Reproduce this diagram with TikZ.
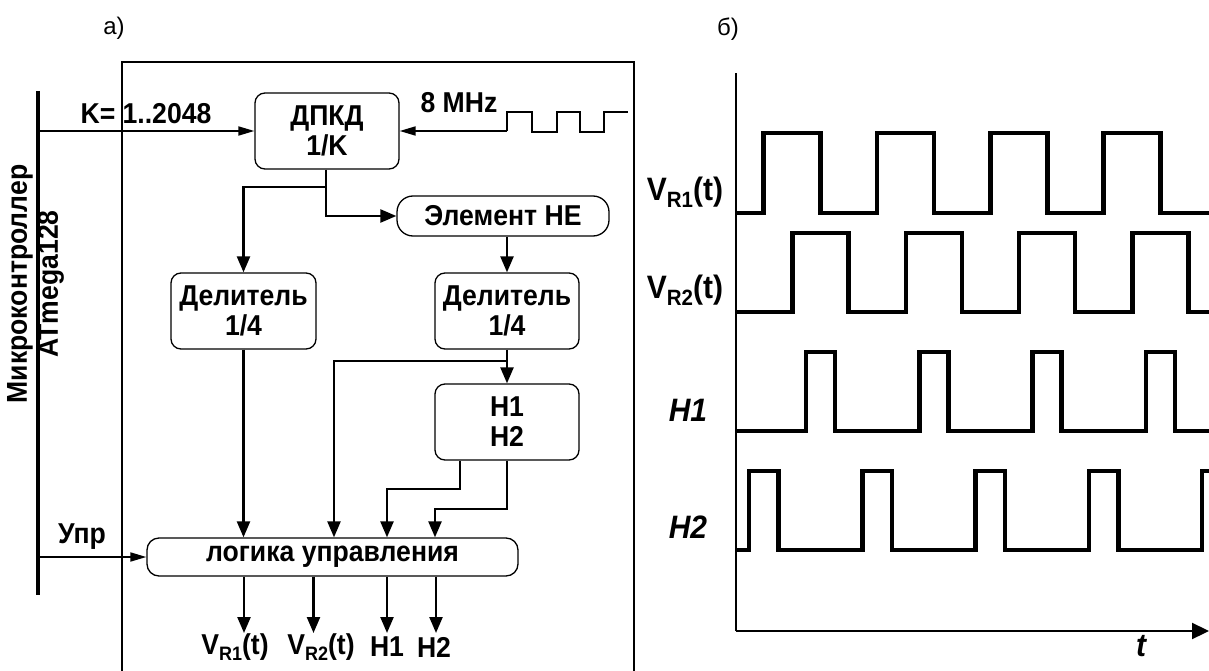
\documentclass[tikz,border=0pt]{standalone}
\usepackage{fontspec}
\usepackage{graphicx}
\setmainfont{Liberation Sans}
\usetikzlibrary{arrows.meta}
\newcommand\vst[1]{\scalebox{1}[1.08]{#1}}
\newcommand\mysub[1]{\raisebox{-0.22em}{\fontsize{18}{18}\selectfont #1}}
\newcommand\mybigsub[1]{\raisebox{-0.22em}{\fontsize{20.5}{20}\selectfont #1}}
\begin{document}
\begin{tikzpicture}[x=1pt,y=-1pt,
  blk/.style={draw, line width=1.3pt, rounded corners=10pt, inner sep=0pt, align=center,
    font=\fontsize{26.6}{30}\selectfont\bfseries},
  txt/.style={inner sep=0pt, font=\fontsize{26.6}{30}\selectfont\bfseries},
  bigtxt/.style={inner sep=0pt, font=\fontsize{30}{34}\selectfont\bfseries},
  itxt/.style={inner sep=0pt, font=\fontsize{30}{34}\selectfont\bfseries\itshape},
  lab/.style={inner sep=0pt, font=\fontsize{24}{26}\selectfont},
  conn/.style={line width=2.4pt, -{Triangle[length=16pt,width=13pt]}},
  wire/.style={line width=2.4pt},
  thinconn/.style={line width=1.8pt, -{Triangle[length=16pt,width=9pt]}},
  clkwave/.style={line width=1.3pt},
  sig/.style={line width=4.5pt, line join=miter},
  axis/.style={line width=2.2pt},
]
\useasboundingbox (0,0) rectangle (1209,671);

% panel labels
\node[lab] (la) at (114,28) {а)};
\node[lab] (lb) at (728,29) {б)};

% frame and microcontroller bus
\draw[line width=1.3pt] (122,671) -- (122,62) -- (634,62) -- (634,671);
\draw[line width=4pt] (38,91) -- (38,595);
\node[txt, rotate=90] (mk) at (20,284) {\vst{Микроконтроллер}};
\node[txt, rotate=90] (atm) at (51,284) {\vst{ATmega128}};

% blocks
\node[blk, minimum width=144pt, minimum height=76pt] (dpkd) at (327,131) {\vst{ДПКД}\\\vst{1/K}};
\node[blk, rounded corners=16pt, minimum width=212pt, minimum height=40pt] (ne) at (503,216) {\vst{Элемент НЕ}};
\node[blk, minimum width=145pt, minimum height=76pt] (del1) at (243.5,311) {\vst{Делитель}\\\vst{1/4}};
\node[blk, minimum width=144pt, minimum height=76pt] (del2) at (507,311) {\vst{Делитель}\\\vst{1/4}};
\node[blk, minimum width=144pt, minimum height=76pt] (hh) at (507,422) {\vst{H1}\\\vst{H2}};
\node[blk, rounded corners=12pt, minimum width=371pt, minimum height=38pt] (logic) at (332.5,557) {\vst{логика управления}};

% texts
\node[txt] (klab) at (146,114) {\vst{K= 1..2048}};
\node[txt] (mhz) at (459,103) {\vst{8 MHz}};
\node[txt] (upr) at (82,537) {\vst{Упр}};

% coordinates
\coordinate (kin) at (38,131);
\coordinate (clk) at (507,131);
\coordinate (uin) at (38,557);
\coordinate (j1) at (326,187);
\coordinate (j2) at (507,361);
\coordinate (i2) at (334,361);
\coordinate (h1b) at (460,489);
\coordinate (h2b) at (507,509);
\coordinate (i3) at (387,489);
\coordinate (i4) at (435,509);
\coordinate (o1) at (244,633);
\coordinate (o2) at (313.5,633);
\coordinate (o3) at (387,633);
\coordinate (o4) at (436,633);

% connectors
\draw[thinconn] (kin) -- (dpkd.west);
\draw[thinconn] (clk) -- (dpkd.east);
\draw[clkwave] (clk) -- (507,112) -- (532,112) -- (532,132) -- (557,132) -- (557,112)
  -- (580,112) -- (580,132) -- (604,132) -- (604,112) -- (628,112);
\draw[wire] (dpkd.south -| j1) -- (j1);
\draw[conn] (j1) -| (del1.north);
\draw[conn] (j1) |- (ne.west);
\draw[conn] (ne.south -| del2.north) -- (del2.north);
\draw[conn] (del2.south) -- (hh.north);
\draw[conn] (j2) -| (i2 |- logic.north);
\draw[conn] (del1.south) -- (del1.south |- logic.north);
\draw[conn] (hh.south -| h1b) -- (h1b) -| (i3 |- logic.north);
\draw[conn] (hh.south -| h2b) -- (h2b) -| (i4 |- logic.north);
\draw[thinconn] (uin) -- (logic.west);
\draw[conn] (o1 |- logic.south) -- (o1);
\draw[conn] (o2 |- logic.south) -- (o2);
\draw[conn] (o3 |- logic.south) -- (o3);
\draw[conn] (o4 |- logic.south) -- (o4);

% output labels
\node[txt] (lv1) at (235,647) {\vst{V\mysub{R1}(t)}};
\node[txt] (lv2) at (321,647) {\vst{V\mysub{R2}(t)}};
\node[txt] (lh1) at (387,647) {\vst{H1}};
\node[txt] (lh2) at (434,647) {\vst{H2}};

% timing diagram
\coordinate (origin) at (736,631);
\coordinate (ytop) at (736,73);
\coordinate (xend) at (1209,631);
\draw[axis] (origin) -- (ytop);
\draw[axis, -{Triangle[length=17pt,width=16pt]}] (origin) -- (xend);
\node[itxt] (tl) at (1141,646) {\vst{t}};

\draw[sig] (736,213) \foreach \u in {763.7,877,990.3,1103.6} { -- (\u,213) -- (\u,133) -- (\u+57,133) -- (\u+57,213) } -- (1209,213);
\draw[sig] (736,312) \foreach \u in {792.5,905.8,1019.1,1132.4} { -- (\u,312) -- (\u,233) -- (\u+56,233) -- (\u+56,312) } -- (1209,312);
\draw[sig] (736,431) \foreach \u in {806,919.3,1032.6,1145.9} { -- (\u,431) -- (\u,352) -- (\u+29,352) -- (\u+29,431) } -- (1209,431);
\draw[sig] (736,550) \foreach \u in {749,862.3,975.6,1088.9} { -- (\u,550) -- (\u,471) -- (\u+29.5,471) -- (\u+29.5,550) } -- (1202.2,550) -- (1202.2,471) -- (1209,471);

\node[bigtxt] (rv1) at (685,192) {\vst{V\mybigsub{R1}(t)}};
\node[bigtxt] (rv2) at (685,290) {\vst{V\mybigsub{R2}(t)}};
\node[itxt] (rh1) at (688,410) {\vst{H1}};
\node[itxt] (rh2) at (688,527) {\vst{H2}};
\end{tikzpicture}
\end{document}
